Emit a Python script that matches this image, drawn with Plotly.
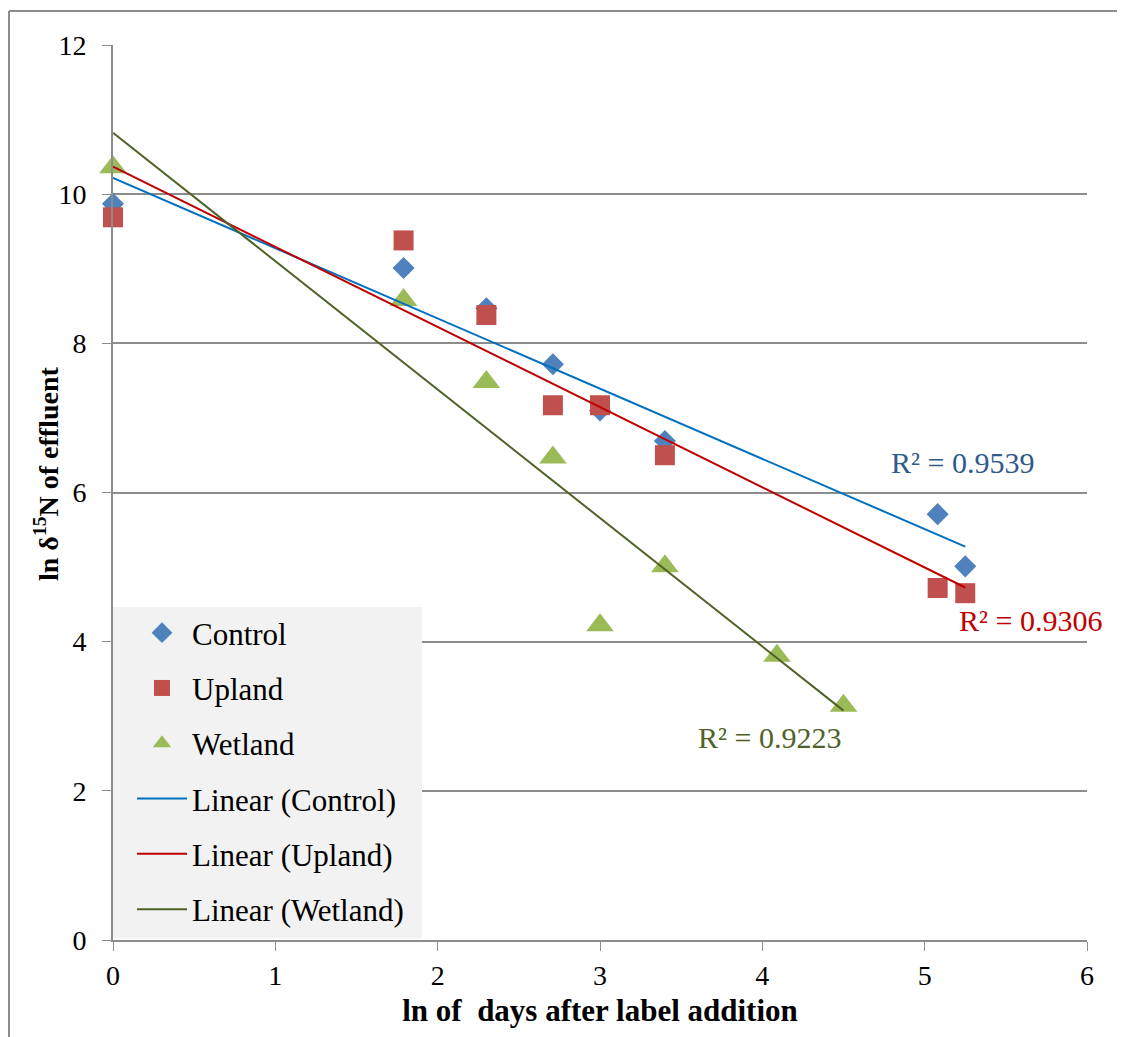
import numpy as np
import plotly.graph_objects as go

# ---- data ----
control_x = [0.0, 1.79, 2.30, 2.71, 3.00, 3.40, 5.08, 5.25]
control_y = [9.87, 9.01, 8.47, 7.72, 7.10, 6.69, 5.71, 5.01]

upland_x = [0.0, 1.79, 2.30, 2.71, 3.00, 3.40, 5.08, 5.25]
upland_y = [9.69, 9.38, 8.38, 7.17, 7.17, 6.50, 4.72, 4.65]

wetland_x = [0.0, 1.79, 2.30, 2.71, 3.00, 3.40, 4.09, 4.50]
wetland_y = [10.36, 8.58, 7.48, 6.47, 4.22, 5.01, 3.81, 3.14]

r2_labels = ["R² = 0.9539", "R² = 0.9306", "R² = 0.9223"]
x_ticks = [0, 1, 2, 3, 4, 5, 6]
y_ticks = [0, 2, 4, 6, 8, 10, 12]

FONT = "Liberation Serif"
GRID = "#8c8c8c"

# page body has an 8px default margin: compensate
OFF = 8
W, H = 1125 - OFF, 1037 - OFF
PL, PT, PW, PH = 113 - OFF, 45 - OFF, 974, 895

def fit(xs, ys):
    m, b = np.polyfit(xs, ys, 1)
    xx = np.array([min(xs), max(xs)])
    return xx, m * xx + b

fig = go.Figure()

series = [
    ("Control", control_x, control_y, "diamond", "#4F81BD", 17),
    ("Upland", upland_x, upland_y, "square", "#C0504D", 20),
    ("Wetland", wetland_x, wetland_y, "triangle-up", "#9BBB59", 24),
]
for name, xs, ys, sym, col, sz in series:
    fig.add_trace(go.Scatter(x=xs, y=ys, mode="markers", name=name,
                             legendgroup=name, cliponaxis=False,
                             marker=dict(symbol=sym, color=col, size=sz,
                                         line=dict(width=0))))

lines = [
    ("Linear (Control)", control_x, control_y, "#0070C0"),
    ("Linear (Upland)", upland_x, upland_y, "#C00000"),
    ("Linear (Wetland)", wetland_x, wetland_y, "#4F6228"),
]
for name, xs, ys, col in lines:
    lx, ly = fit(xs, ys)
    fig.add_trace(go.Scatter(x=lx, y=ly, mode="lines", name=name,
                             legendgroup=name, cliponaxis=False,
                             line=dict(color=col, width=2)))

# R² annotations
ann_pos = [(5.236, 6.40, "#2E5A8C"), (5.649, 4.28, "#C00000"), (4.047, 2.71, "#4F6228")]
for txt, (ax, ay, col) in zip(r2_labels, ann_pos):
    fig.add_annotation(x=ax, y=ay, text=txt, showarrow=False,
                       font=dict(family=FONT, size=30, color=col))

# y-axis title as rotated annotation
fig.add_annotation(xref="paper", yref="paper", x=(46 - 113) / PW, y=(940 - 474) / PH,
                   text="<b>ln δ<sup>15</sup>N of effluent</b>", textangle=-90,
                   showarrow=False, xanchor="center", yanchor="middle",
                   font=dict(family=FONT, size=28, color="black"))

# legend background box
fig.add_shape(type="rect", xref="paper", yref="paper",
              x0=0.0, x1=(422 - 113) / PW, y0=0.002, y1=(940 - 607) / PH,
              fillcolor="#F2F2F2", line=dict(width=0), layer="above")

# outer chart border (left and top edges visible)
bx = (9 - 113) / PW
by = (940 - 11) / PH
fig.add_shape(type="line", xref="paper", yref="paper", x0=bx, x1=bx, y0=by, y1=-0.2,
              line=dict(color="#8c8c8c", width=2))
fig.add_shape(type="line", xref="paper", yref="paper", x0=bx, x1=1.1, y0=by, y1=by,
              line=dict(color="#8c8c8c", width=2))

fig.update_layout(
    width=W, height=H,
    margin=dict(l=PL, r=W - PL - PW, t=PT, b=H - PT - PH, autoexpand=False),
    plot_bgcolor="white", paper_bgcolor="white",
    font=dict(family=FONT, size=28, color="black"),
    showlegend=True,
    legend=dict(x=(132 - 113) / PW, y=(940 - 606) / PH, xanchor="left", yanchor="top",
                bgcolor="rgba(0,0,0,0)", tracegroupgap=12,
                font=dict(family=FONT, size=31, color="black"),
                itemwidth=50),
)
fig.update_xaxes(range=[0, 6], tickvals=x_ticks, showgrid=False,
                 showline=True, linecolor=GRID, linewidth=2,
                 ticks="outside", ticklen=9, tickcolor=GRID, tickwidth=1,
                 zeroline=False,
                 tickfont=dict(family=FONT, size=28),
                 title=dict(text="<b>ln of  days after label addition</b>",
                            font=dict(family=FONT, size=31), standoff=10))
fig.update_yaxes(range=[0, 12], tickvals=y_ticks, showgrid=True,
                 gridcolor=GRID, gridwidth=2,
                 showline=True, linecolor=GRID, linewidth=2,
                 ticks="outside", ticklen=9, tickcolor=GRID, tickwidth=1,
                 ticklabelstandoff=10,
                 zeroline=False,
                 tickfont=dict(family=FONT, size=28))

fig.write_html("out.html")
